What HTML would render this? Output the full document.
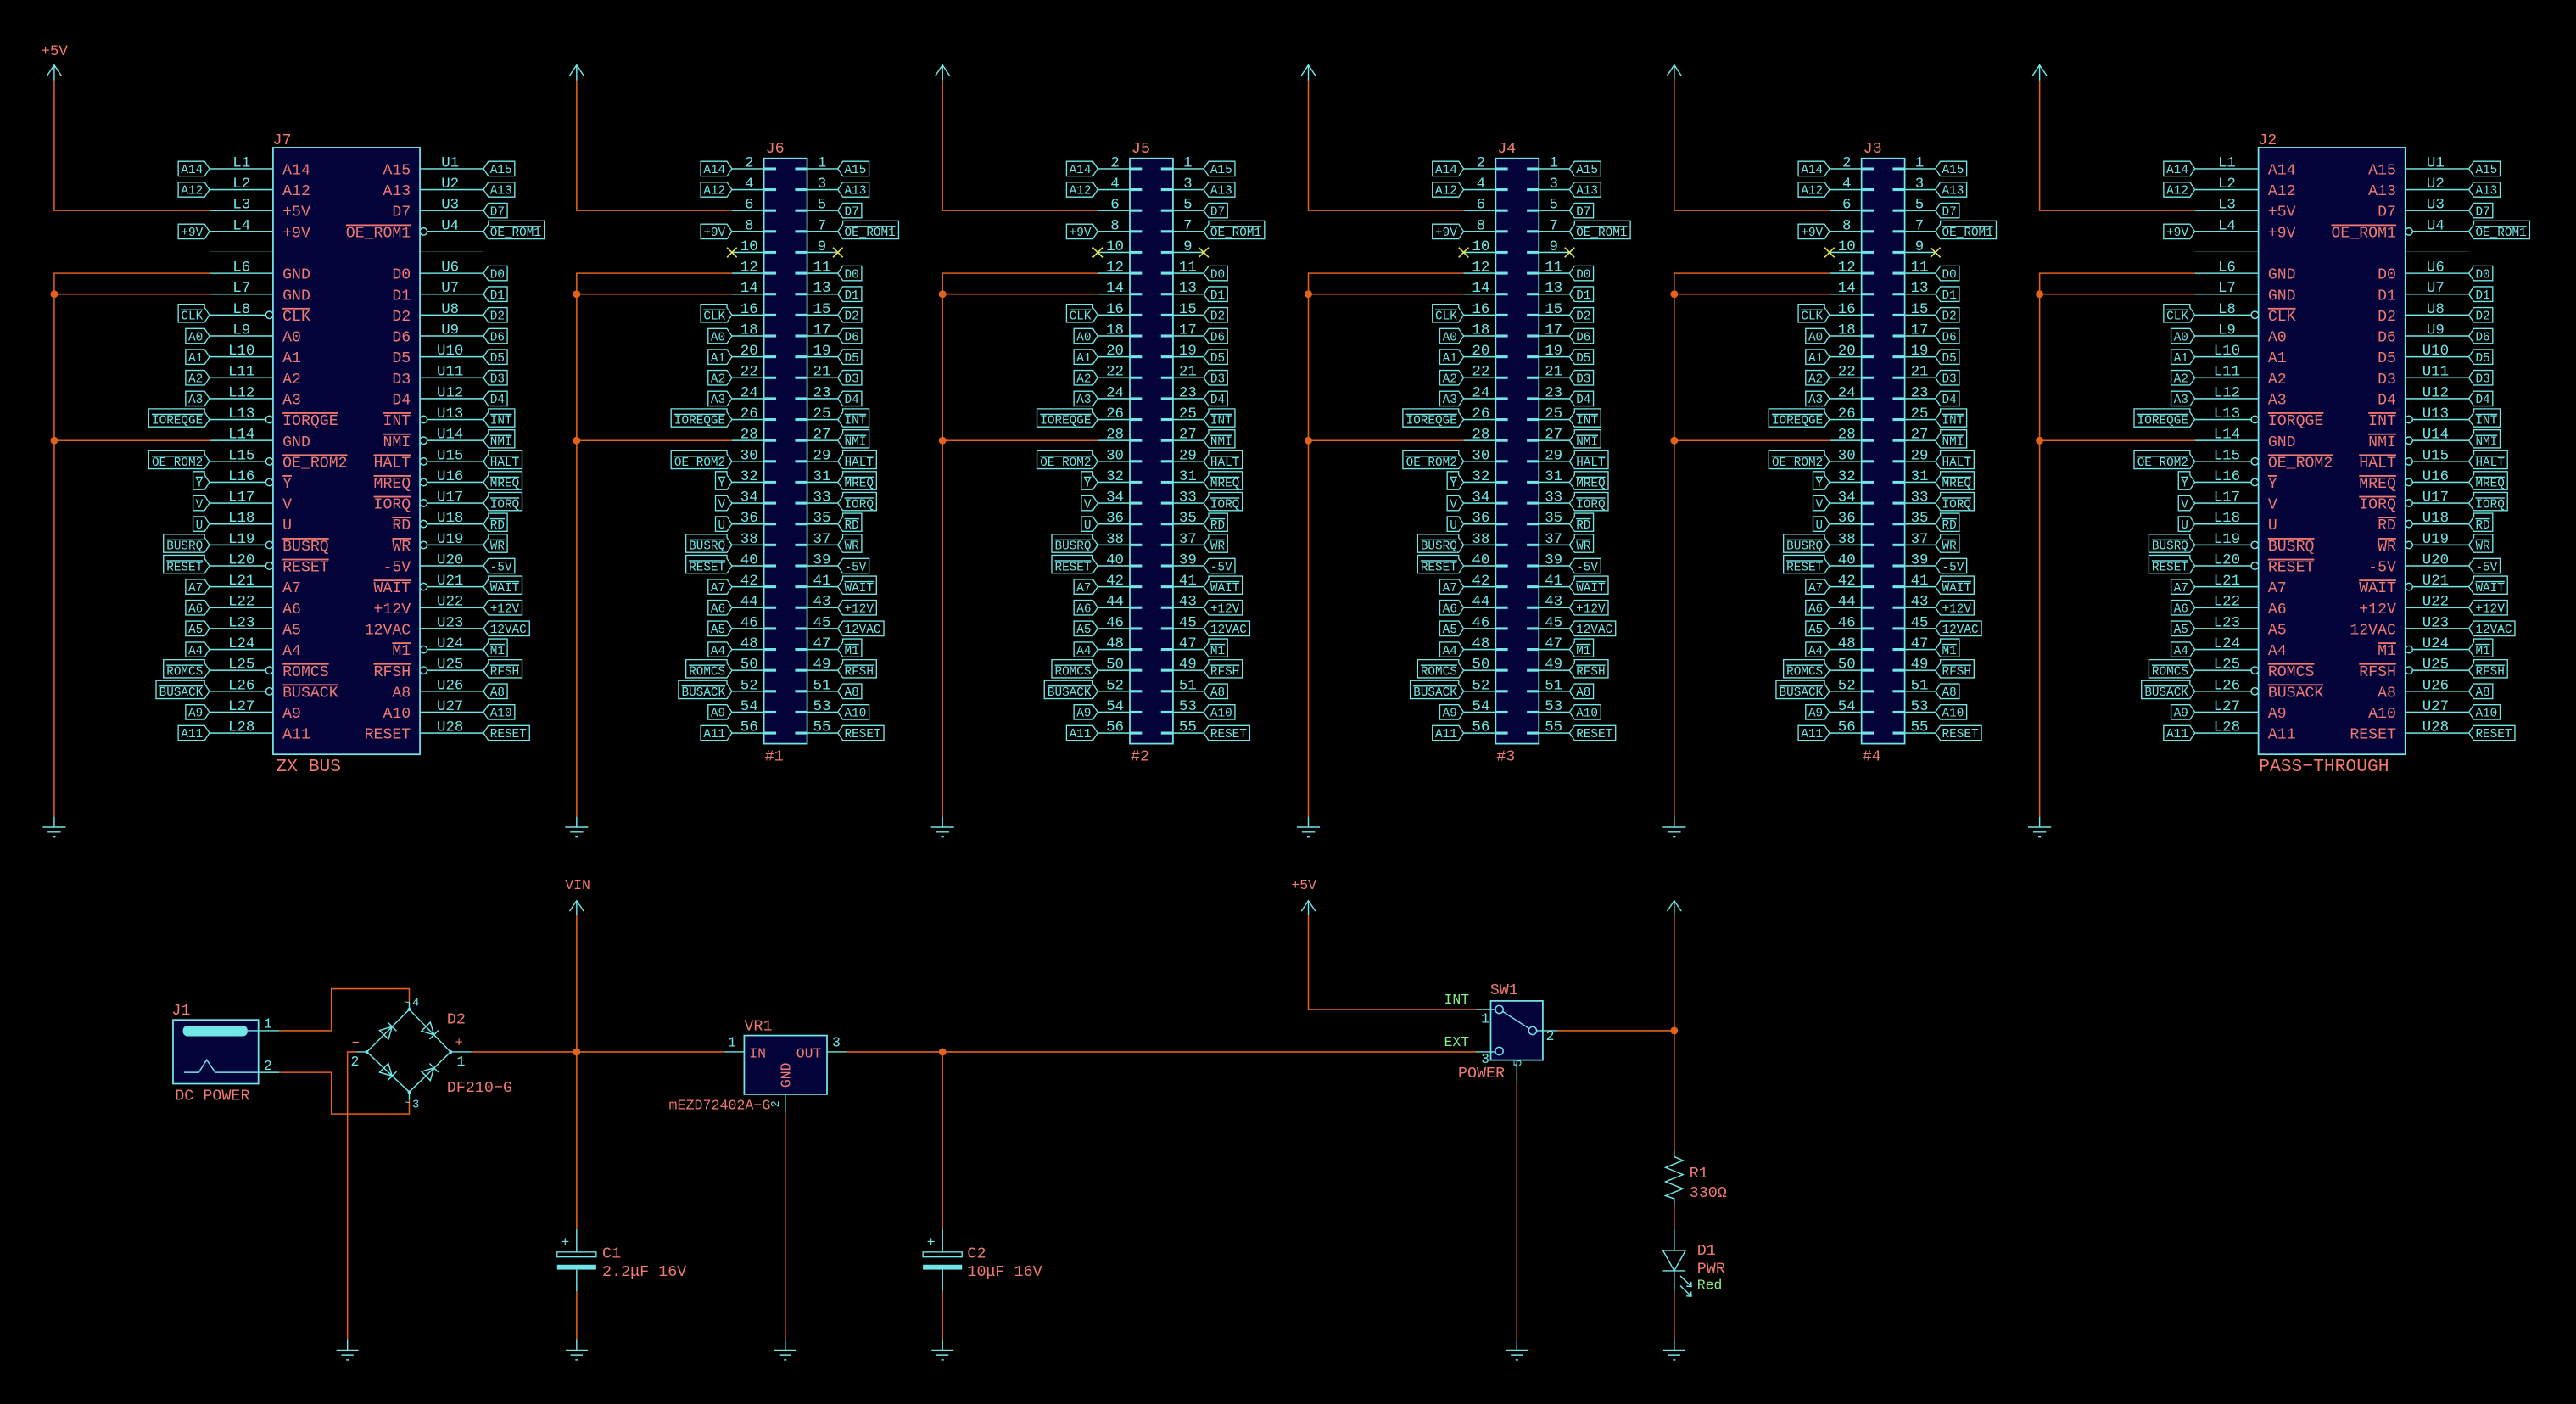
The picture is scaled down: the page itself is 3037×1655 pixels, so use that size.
<!DOCTYPE html>
<html><head><meta charset="utf-8"><style>
html,body{margin:0;padding:0;background:#000;}
svg{display:block}
text{font-family:"Liberation Mono","DejaVu Sans Mono",monospace;}
.w{fill:none;stroke:#e2621a;stroke-width:.8}
.c{fill:none;stroke:#72e6e6;stroke-width:.75}
.bx{fill:#03033a;stroke:#72e6e6;stroke-width:.9}
.lab path{fill:none;stroke:#72e6e6;stroke-width:.7}
.lab text{font-size:7.4px;fill:#72e6e6}
.L text{text-anchor:end}
.o{text-decoration:overline}
.pn text{font-size:9px;fill:#72e6e6;text-anchor:middle}
.nm{font-size:9.4px;fill:#f27a72}
.nm.r text{text-anchor:end}
.s{fill:#f27a72;font-size:9.5px}
.g{fill:#88ee88;font-size:8.5px}
.cy{fill:#72e6e6;font-size:8.5px}
.j{fill:#e2621a}
.bub{fill:#000;stroke:#72e6e6;stroke-width:.75}
.nc{stroke:#e6e650;stroke-width:.8;fill:none}
</style></head><body>
<svg width="3037" height="1655" viewBox="0 0 1568 854.5" preserveAspectRatio="none" xmlns="http://www.w3.org/2000/svg">
<defs>
<pattern id="pp" x="0" y="102.3" width="20" height="12.72" patternUnits="userSpaceOnUse"><rect width="20" height=".8" fill="#72e6e6"/></pattern>
<pattern id="ps" x="0" y="101.9" width="20" height="12.72" patternUnits="userSpaceOnUse"><rect width="20" height="1.6" fill="#72e6e6"/></pattern>
</defs>
<rect width="1568" height="854.5" fill="#000"/>

<!-- ===== Rails top ===== -->
<g class="c">
<path d="M33 49V39.6M28.7 46L33 39.6L37.3 46M351 49V39.6M346.7 46L351 39.6L355.3 46M573.7 49V39.6M569.4 46L573.7 39.6L578 46M796.4 49V39.6M792.1 46L796.4 39.6L800.7 46M1019.1 49V39.6M1014.8 46L1019.1 39.6L1023.4 46M1241.5 49V39.6M1237.2 46L1241.5 39.6L1245.8 46"/>
</g>
<path class="w" d="M33 49V128.1H127.5M127.5 166.3H33V497M33 179H127.5M33 268.1H127.5
M351 49V128.1H445.5M445.5 166.3H351V497M351 179H445.5M351 268.1H445.5
M573.7 49V128.1H668.2M668.2 166.3H573.7V497M573.7 179H668.2M573.7 268.1H668.2
M796.4 49V128.1H890.9M890.9 166.3H796.4V497M796.4 179H890.9M796.4 268.1H890.9
M1019.1 49V128.1H1113.6M1113.6 166.3H1019.1V497M1019.1 179H1113.6M1019.1 268.1H1113.6
M1241.5 49V128.1H1336M1336 166.3H1241.5V497M1241.5 179H1336M1241.5 268.1H1336"/>
<g class="j">
<circle cx="33" cy="179" r="2.3"/><circle cx="33" cy="268.1" r="2.3"/>
<circle cx="351" cy="179" r="2.3"/><circle cx="351" cy="268.1" r="2.3"/>
<circle cx="573.7" cy="179" r="2.3"/><circle cx="573.7" cy="268.1" r="2.3"/>
<circle cx="796.4" cy="179" r="2.3"/><circle cx="796.4" cy="268.1" r="2.3"/>
<circle cx="1019.1" cy="179" r="2.3"/><circle cx="1019.1" cy="268.1" r="2.3"/>
<circle cx="1241.5" cy="179" r="2.3"/><circle cx="1241.5" cy="268.1" r="2.3"/>
</g>
<path class="c" d="M33 497V503.4M26 503.4H40M29 506.4H37M32.2 509.4H33.8
M351 497V503.4M344 503.4H358M347 506.4H355M350.2 509.4H351.8
M573.7 497V503.4M566.7 503.4H580.7M569.7 506.4H577.7M572.9 509.4H574.5
M796.4 497V503.4M789.4 503.4H803.4M792.4 506.4H800.4M795.6 509.4H797.2
M1019.1 497V503.4M1012.1 503.4H1026.1M1015.1 506.4H1023.1M1018.3 509.4H1019.9
M1241.5 497V503.4M1234.5 503.4H1248.5M1237.5 506.4H1245.5M1240.7 509.4H1242.3"/>
<text class="s" x="25" y="33.5" style="font-size:9px">+5V</text>

<!-- ===== J7 / J2 shared drawing ===== -->
<g id="j7">
<rect class="bx" x="166.2" y="89.8" width="89.4" height="369.3"/>
<rect x="127.5" y="102.3" width="38.7" height="51" fill="url(#pp)"/>
<rect x="127.5" y="165.9" width="38.7" height="281" fill="url(#pp)"/>
<rect x="255.6" y="102.3" width="38.7" height="51" fill="url(#pp)"/>
<rect x="255.6" y="165.9" width="38.7" height="281" fill="url(#pp)"/>
<g class="bub">
<circle cx="164" cy="191.7" r="2.2"/><circle cx="164" cy="255.3" r="2.2"/><circle cx="164" cy="280.8" r="2.2"/><circle cx="164" cy="293.5" r="2.2"/><circle cx="164" cy="331.7" r="2.2"/><circle cx="164" cy="344.4" r="2.2"/><circle cx="164" cy="408" r="2.2"/><circle cx="164" cy="420.7" r="2.2"/>
<circle cx="257.8" cy="140.9" r="2.2"/><circle cx="257.8" cy="255.3" r="2.2"/><circle cx="257.8" cy="268.1" r="2.2"/><circle cx="257.8" cy="280.8" r="2.2"/><circle cx="257.8" cy="293.5" r="2.2"/><circle cx="257.8" cy="306.2" r="2.2"/><circle cx="257.8" cy="318.9" r="2.2"/><circle cx="257.8" cy="331.7" r="2.2"/><circle cx="257.8" cy="357.1" r="2.2"/><circle cx="257.8" cy="395.3" r="2.2"/><circle cx="257.8" cy="408" r="2.2"/>
</g>
<g class="pn">
<text x="147" y="101.4">L1</text><text x="147" y="114.1">L2</text><text x="147" y="126.8">L3</text><text x="147" y="139.6">L4</text><text x="147" y="165">L6</text><text x="147" y="177.7">L7</text><text x="147" y="190.4">L8</text><text x="147" y="203.2">L9</text><text x="147" y="215.9">L10</text><text x="147" y="228.6">L11</text><text x="147" y="241.3">L12</text><text x="147" y="254">L13</text><text x="147" y="266.8">L14</text><text x="147" y="279.5">L15</text><text x="147" y="292.2">L16</text><text x="147" y="304.9">L17</text><text x="147" y="317.6">L18</text><text x="147" y="330.4">L19</text><text x="147" y="343.1">L20</text><text x="147" y="355.8">L21</text><text x="147" y="368.5">L22</text><text x="147" y="381.2">L23</text><text x="147" y="394">L24</text><text x="147" y="406.7">L25</text><text x="147" y="419.4">L26</text><text x="147" y="432.1">L27</text><text x="147" y="444.8">L28</text>
<text x="274" y="101.4">U1</text><text x="274" y="114.1">U2</text><text x="274" y="126.8">U3</text><text x="274" y="139.6">U4</text><text x="274" y="165">U6</text><text x="274" y="177.7">U7</text><text x="274" y="190.4">U8</text><text x="274" y="203.2">U9</text><text x="274" y="215.9">U10</text><text x="274" y="228.6">U11</text><text x="274" y="241.3">U12</text><text x="274" y="254">U13</text><text x="274" y="266.8">U14</text><text x="274" y="279.5">U15</text><text x="274" y="292.2">U16</text><text x="274" y="304.9">U17</text><text x="274" y="317.6">U18</text><text x="274" y="330.4">U19</text><text x="274" y="343.1">U20</text><text x="274" y="355.8">U21</text><text x="274" y="368.5">U22</text><text x="274" y="381.2">U23</text><text x="274" y="394">U24</text><text x="274" y="406.7">U25</text><text x="274" y="419.4">U26</text><text x="274" y="432.1">U27</text><text x="274" y="444.8">U28</text>
</g>
<g class="nm">
<text x="172" y="106.1">A14</text><text x="172" y="118.8">A12</text><text x="172" y="131.5">+5V</text><text x="172" y="144.3">+9V</text><text x="172" y="169.7">GND</text><text x="172" y="182.4">GND</text><text class="o" x="172" y="195.1">CLK</text><text x="172" y="207.9">A0</text><text x="172" y="220.6">A1</text><text x="172" y="233.3">A2</text><text x="172" y="246">A3</text><text class="o" x="172" y="258.7">IORQGE</text><text x="172" y="271.5">GND</text><text class="o" x="172" y="284.2">OE_ROM2</text><text class="o" x="172" y="296.9">Y</text><text x="172" y="309.6">V</text><text x="172" y="322.3">U</text><text class="o" x="172" y="335.1">BUSRQ</text><text class="o" x="172" y="347.8">RESET</text><text x="172" y="360.5">A7</text><text x="172" y="373.2">A6</text><text x="172" y="385.9">A5</text><text x="172" y="398.7">A4</text><text class="o" x="172" y="411.4">ROMCS</text><text class="o" x="172" y="424.1">BUSACK</text><text x="172" y="436.8">A9</text><text x="172" y="449.5">A11</text>
</g>
<g class="nm r">
<text x="250" y="106.1">A15</text><text x="250" y="118.8">A13</text><text x="250" y="131.5">D7</text><text class="o" x="250" y="144.3">OE_ROM1</text><text x="250" y="169.7">D0</text><text x="250" y="182.4">D1</text><text x="250" y="195.1">D2</text><text x="250" y="207.9">D6</text><text x="250" y="220.6">D5</text><text x="250" y="233.3">D3</text><text x="250" y="246">D4</text><text class="o" x="250" y="258.7">INT</text><text class="o" x="250" y="271.5">NMI</text><text class="o" x="250" y="284.2">HALT</text><text class="o" x="250" y="296.9">MREQ</text><text class="o" x="250" y="309.6">IORQ</text><text class="o" x="250" y="322.3">RD</text><text class="o" x="250" y="335.1">WR</text><text x="250" y="347.8">-5V</text><text class="o" x="250" y="360.5">WAIT</text><text x="250" y="373.2">+12V</text><text x="250" y="385.9">12VAC</text><text class="o" x="250" y="398.7">M1</text><text class="o" x="250" y="411.4">RFSH</text><text x="250" y="424.1">A8</text><text x="250" y="436.8">A10</text><text x="250" y="449.5">RESET</text>
</g>
<g class="lab L" transform="translate(127.5,0)">
<g transform="translate(0,102.7)"><path d="M0 0l-3-4.5h-16v9h16z"/><text x="-4" y="2.7">A14</text></g>
<g transform="translate(0,115.4)"><path d="M0 0l-3-4.5h-16v9h16z"/><text x="-4" y="2.7">A12</text></g>
<g transform="translate(0,140.9)"><path d="M0 0l-3-4.5h-16v9h16z"/><text x="-4" y="2.7">+9V</text></g>
<g transform="translate(0,191.7)"><path d="M0 0l-3-4.5v-2h-16v11h16z"/><text class="o" x="-4" y="2.7">CLK</text></g>
<g transform="translate(0,204.5)"><path d="M0 0l-3-4.5h-11.5v9h11.5z"/><text x="-4" y="2.7">A0</text></g>
<g transform="translate(0,217.2)"><path d="M0 0l-3-4.5h-11.5v9h11.5z"/><text x="-4" y="2.7">A1</text></g>
<g transform="translate(0,229.9)"><path d="M0 0l-3-4.5h-11.5v9h11.5z"/><text x="-4" y="2.7">A2</text></g>
<g transform="translate(0,242.6)"><path d="M0 0l-3-4.5h-11.5v9h11.5z"/><text x="-4" y="2.7">A3</text></g>
<g transform="translate(0,255.3)"><path d="M0 0l-3-4.5v-2h-34v11h34z"/><text class="o" x="-4" y="2.7">IOREQGE</text></g>
<g transform="translate(0,280.8)"><path d="M0 0l-3-4.5v-2h-34v11h34z"/><text class="o" x="-4" y="2.7">OE_ROM2</text></g>
<g transform="translate(0,293.5)"><path d="M0 0l-3-4.5v-2h-7v11h7z"/><text class="o" x="-4" y="2.7">Y</text></g>
<g transform="translate(0,306.2)"><path d="M0 0l-3-4.5h-7v9h7z"/><text x="-4" y="2.7">V</text></g>
<g transform="translate(0,318.9)"><path d="M0 0l-3-4.5h-7v9h7z"/><text x="-4" y="2.7">U</text></g>
<g transform="translate(0,331.7)"><path d="M0 0l-3-4.5v-2h-25v11h25z"/><text class="o" x="-4" y="2.7">BUSRQ</text></g>
<g transform="translate(0,344.4)"><path d="M0 0l-3-4.5v-2h-25v11h25z"/><text class="o" x="-4" y="2.7">RESET</text></g>
<g transform="translate(0,357.1)"><path d="M0 0l-3-4.5h-11.5v9h11.5z"/><text x="-4" y="2.7">A7</text></g>
<g transform="translate(0,369.8)"><path d="M0 0l-3-4.5h-11.5v9h11.5z"/><text x="-4" y="2.7">A6</text></g>
<g transform="translate(0,382.5)"><path d="M0 0l-3-4.5h-11.5v9h11.5z"/><text x="-4" y="2.7">A5</text></g>
<g transform="translate(0,395.3)"><path d="M0 0l-3-4.5h-11.5v9h11.5z"/><text x="-4" y="2.7">A4</text></g>
<g transform="translate(0,408)"><path d="M0 0l-3-4.5v-2h-25v11h25z"/><text class="o" x="-4" y="2.7">ROMCS</text></g>
<g transform="translate(0,420.7)"><path d="M0 0l-3-4.5v-2h-29.5v11h29.5z"/><text class="o" x="-4" y="2.7">BUSACK</text></g>
<g transform="translate(0,433.4)"><path d="M0 0l-3-4.5h-11.5v9h11.5z"/><text x="-4" y="2.7">A9</text></g>
<g transform="translate(0,446.1)"><path d="M0 0l-3-4.5h-16v9h16z"/><text x="-4" y="2.7">A11</text></g>
</g>
<g class="lab" transform="translate(294.3,0)">
<g transform="translate(0,102.7)"><path d="M0 0l3-4.5h16v9h-16z"/><text x="4" y="2.7">A15</text></g>
<g transform="translate(0,115.4)"><path d="M0 0l3-4.5h16v9h-16z"/><text x="4" y="2.7">A13</text></g>
<g transform="translate(0,128.1)"><path d="M0 0l3-4.5h11.5v9h-11.5z"/><text x="4" y="2.7">D7</text></g>
<g transform="translate(0,140.9)"><path d="M0 0l3-4.5v-2h34v11h-34z"/><text class="o" x="4" y="2.7">OE_ROM1</text></g>
<g transform="translate(0,166.3)"><path d="M0 0l3-4.5h11.5v9h-11.5z"/><text x="4" y="2.7">D0</text></g>
<g transform="translate(0,179)"><path d="M0 0l3-4.5h11.5v9h-11.5z"/><text x="4" y="2.7">D1</text></g>
<g transform="translate(0,191.7)"><path d="M0 0l3-4.5h11.5v9h-11.5z"/><text x="4" y="2.7">D2</text></g>
<g transform="translate(0,204.5)"><path d="M0 0l3-4.5h11.5v9h-11.5z"/><text x="4" y="2.7">D6</text></g>
<g transform="translate(0,217.2)"><path d="M0 0l3-4.5h11.5v9h-11.5z"/><text x="4" y="2.7">D5</text></g>
<g transform="translate(0,229.9)"><path d="M0 0l3-4.5h11.5v9h-11.5z"/><text x="4" y="2.7">D3</text></g>
<g transform="translate(0,242.6)"><path d="M0 0l3-4.5h11.5v9h-11.5z"/><text x="4" y="2.7">D4</text></g>
<g transform="translate(0,255.3)"><path d="M0 0l3-4.5v-2h16v11h-16z"/><text class="o" x="4" y="2.7">INT</text></g>
<g transform="translate(0,268.1)"><path d="M0 0l3-4.5v-2h16v11h-16z"/><text class="o" x="4" y="2.7">NMI</text></g>
<g transform="translate(0,280.8)"><path d="M0 0l3-4.5v-2h20.5v11h-20.5z"/><text class="o" x="4" y="2.7">HALT</text></g>
<g transform="translate(0,293.5)"><path d="M0 0l3-4.5v-2h20.5v11h-20.5z"/><text class="o" x="4" y="2.7">MREQ</text></g>
<g transform="translate(0,306.2)"><path d="M0 0l3-4.5v-2h20.5v11h-20.5z"/><text class="o" x="4" y="2.7">IORQ</text></g>
<g transform="translate(0,318.9)"><path d="M0 0l3-4.5v-2h11.5v11h-11.5z"/><text class="o" x="4" y="2.7">RD</text></g>
<g transform="translate(0,331.7)"><path d="M0 0l3-4.5v-2h11.5v11h-11.5z"/><text class="o" x="4" y="2.7">WR</text></g>
<g transform="translate(0,344.4)"><path d="M0 0l3-4.5h16v9h-16z"/><text x="4" y="2.7">-5V</text></g>
<g transform="translate(0,357.1)"><path d="M0 0l3-4.5v-2h20.5v11h-20.5z"/><text class="o" x="4" y="2.7">WAIT</text></g>
<g transform="translate(0,369.8)"><path d="M0 0l3-4.5h20.5v9h-20.5z"/><text x="4" y="2.7">+12V</text></g>
<g transform="translate(0,382.5)"><path d="M0 0l3-4.5h25v9h-25z"/><text x="4" y="2.7">12VAC</text></g>
<g transform="translate(0,395.3)"><path d="M0 0l3-4.5v-2h11.5v11h-11.5z"/><text class="o" x="4" y="2.7">M1</text></g>
<g transform="translate(0,408)"><path d="M0 0l3-4.5v-2h20.5v11h-20.5z"/><text class="o" x="4" y="2.7">RFSH</text></g>
<g transform="translate(0,420.7)"><path d="M0 0l3-4.5h11.5v9h-11.5z"/><text x="4" y="2.7">A8</text></g>
<g transform="translate(0,433.4)"><path d="M0 0l3-4.5h16v9h-16z"/><text x="4" y="2.7">A10</text></g>
<g transform="translate(0,446.1)"><path d="M0 0l3-4.5h25v9h-25z"/><text x="4" y="2.7">RESET</text></g>
</g>
</g>
<text class="s" x="166" y="87.8">J7</text>
<text class="s" x="168" y="469.3" style="font-size:11px">ZX BUS</text>

<!-- J2 -->
<g transform="translate(1208.5,0)">
<rect class="bx" x="166.2" y="89.8" width="89.4" height="369.3"/>
<rect x="127.5" y="102.3" width="38.7" height="51" fill="url(#pp)"/>
<rect x="127.5" y="165.9" width="38.7" height="281" fill="url(#pp)"/>
<rect x="255.6" y="102.3" width="38.7" height="51" fill="url(#pp)"/>
<rect x="255.6" y="165.9" width="38.7" height="281" fill="url(#pp)"/>
<g class="bub">
<circle cx="164" cy="191.7" r="2.2"/><circle cx="164" cy="255.3" r="2.2"/><circle cx="164" cy="280.8" r="2.2"/><circle cx="164" cy="293.5" r="2.2"/><circle cx="164" cy="331.7" r="2.2"/><circle cx="164" cy="344.4" r="2.2"/><circle cx="164" cy="408" r="2.2"/><circle cx="164" cy="420.7" r="2.2"/>
<circle cx="257.8" cy="140.9" r="2.2"/><circle cx="257.8" cy="255.3" r="2.2"/><circle cx="257.8" cy="268.1" r="2.2"/><circle cx="257.8" cy="280.8" r="2.2"/><circle cx="257.8" cy="293.5" r="2.2"/><circle cx="257.8" cy="306.2" r="2.2"/><circle cx="257.8" cy="318.9" r="2.2"/><circle cx="257.8" cy="331.7" r="2.2"/><circle cx="257.8" cy="357.1" r="2.2"/><circle cx="257.8" cy="395.3" r="2.2"/><circle cx="257.8" cy="408" r="2.2"/>
</g>
<g class="pn">
<text x="147" y="101.4">L1</text><text x="147" y="114.1">L2</text><text x="147" y="126.8">L3</text><text x="147" y="139.6">L4</text><text x="147" y="165">L6</text><text x="147" y="177.7">L7</text><text x="147" y="190.4">L8</text><text x="147" y="203.2">L9</text><text x="147" y="215.9">L10</text><text x="147" y="228.6">L11</text><text x="147" y="241.3">L12</text><text x="147" y="254">L13</text><text x="147" y="266.8">L14</text><text x="147" y="279.5">L15</text><text x="147" y="292.2">L16</text><text x="147" y="304.9">L17</text><text x="147" y="317.6">L18</text><text x="147" y="330.4">L19</text><text x="147" y="343.1">L20</text><text x="147" y="355.8">L21</text><text x="147" y="368.5">L22</text><text x="147" y="381.2">L23</text><text x="147" y="394">L24</text><text x="147" y="406.7">L25</text><text x="147" y="419.4">L26</text><text x="147" y="432.1">L27</text><text x="147" y="444.8">L28</text>
<text x="274" y="101.4">U1</text><text x="274" y="114.1">U2</text><text x="274" y="126.8">U3</text><text x="274" y="139.6">U4</text><text x="274" y="165">U6</text><text x="274" y="177.7">U7</text><text x="274" y="190.4">U8</text><text x="274" y="203.2">U9</text><text x="274" y="215.9">U10</text><text x="274" y="228.6">U11</text><text x="274" y="241.3">U12</text><text x="274" y="254">U13</text><text x="274" y="266.8">U14</text><text x="274" y="279.5">U15</text><text x="274" y="292.2">U16</text><text x="274" y="304.9">U17</text><text x="274" y="317.6">U18</text><text x="274" y="330.4">U19</text><text x="274" y="343.1">U20</text><text x="274" y="355.8">U21</text><text x="274" y="368.5">U22</text><text x="274" y="381.2">U23</text><text x="274" y="394">U24</text><text x="274" y="406.7">U25</text><text x="274" y="419.4">U26</text><text x="274" y="432.1">U27</text><text x="274" y="444.8">U28</text>
</g>
<g class="nm">
<text x="172" y="106.1">A14</text><text x="172" y="118.8">A12</text><text x="172" y="131.5">+5V</text><text x="172" y="144.3">+9V</text><text x="172" y="169.7">GND</text><text x="172" y="182.4">GND</text><text class="o" x="172" y="195.1">CLK</text><text x="172" y="207.9">A0</text><text x="172" y="220.6">A1</text><text x="172" y="233.3">A2</text><text x="172" y="246">A3</text><text class="o" x="172" y="258.7">IORQGE</text><text x="172" y="271.5">GND</text><text class="o" x="172" y="284.2">OE_ROM2</text><text class="o" x="172" y="296.9">Y</text><text x="172" y="309.6">V</text><text x="172" y="322.3">U</text><text class="o" x="172" y="335.1">BUSRQ</text><text class="o" x="172" y="347.8">RESET</text><text x="172" y="360.5">A7</text><text x="172" y="373.2">A6</text><text x="172" y="385.9">A5</text><text x="172" y="398.7">A4</text><text class="o" x="172" y="411.4">ROMCS</text><text class="o" x="172" y="424.1">BUSACK</text><text x="172" y="436.8">A9</text><text x="172" y="449.5">A11</text>
</g>
<g class="nm r">
<text x="250" y="106.1">A15</text><text x="250" y="118.8">A13</text><text x="250" y="131.5">D7</text><text class="o" x="250" y="144.3">OE_ROM1</text><text x="250" y="169.7">D0</text><text x="250" y="182.4">D1</text><text x="250" y="195.1">D2</text><text x="250" y="207.9">D6</text><text x="250" y="220.6">D5</text><text x="250" y="233.3">D3</text><text x="250" y="246">D4</text><text class="o" x="250" y="258.7">INT</text><text class="o" x="250" y="271.5">NMI</text><text class="o" x="250" y="284.2">HALT</text><text class="o" x="250" y="296.9">MREQ</text><text class="o" x="250" y="309.6">IORQ</text><text class="o" x="250" y="322.3">RD</text><text class="o" x="250" y="335.1">WR</text><text x="250" y="347.8">-5V</text><text class="o" x="250" y="360.5">WAIT</text><text x="250" y="373.2">+12V</text><text x="250" y="385.9">12VAC</text><text class="o" x="250" y="398.7">M1</text><text class="o" x="250" y="411.4">RFSH</text><text x="250" y="424.1">A8</text><text x="250" y="436.8">A10</text><text x="250" y="449.5">RESET</text>
</g>
<g class="lab L" transform="translate(127.5,0)">
<g transform="translate(0,102.7)"><path d="M0 0l-3-4.5h-16v9h16z"/><text x="-4" y="2.7">A14</text></g>
<g transform="translate(0,115.4)"><path d="M0 0l-3-4.5h-16v9h16z"/><text x="-4" y="2.7">A12</text></g>
<g transform="translate(0,140.9)"><path d="M0 0l-3-4.5h-16v9h16z"/><text x="-4" y="2.7">+9V</text></g>
<g transform="translate(0,191.7)"><path d="M0 0l-3-4.5v-2h-16v11h16z"/><text class="o" x="-4" y="2.7">CLK</text></g>
<g transform="translate(0,204.5)"><path d="M0 0l-3-4.5h-11.5v9h11.5z"/><text x="-4" y="2.7">A0</text></g>
<g transform="translate(0,217.2)"><path d="M0 0l-3-4.5h-11.5v9h11.5z"/><text x="-4" y="2.7">A1</text></g>
<g transform="translate(0,229.9)"><path d="M0 0l-3-4.5h-11.5v9h11.5z"/><text x="-4" y="2.7">A2</text></g>
<g transform="translate(0,242.6)"><path d="M0 0l-3-4.5h-11.5v9h11.5z"/><text x="-4" y="2.7">A3</text></g>
<g transform="translate(0,255.3)"><path d="M0 0l-3-4.5v-2h-34v11h34z"/><text class="o" x="-4" y="2.7">IOREQGE</text></g>
<g transform="translate(0,280.8)"><path d="M0 0l-3-4.5v-2h-34v11h34z"/><text class="o" x="-4" y="2.7">OE_ROM2</text></g>
<g transform="translate(0,293.5)"><path d="M0 0l-3-4.5v-2h-7v11h7z"/><text class="o" x="-4" y="2.7">Y</text></g>
<g transform="translate(0,306.2)"><path d="M0 0l-3-4.5h-7v9h7z"/><text x="-4" y="2.7">V</text></g>
<g transform="translate(0,318.9)"><path d="M0 0l-3-4.5h-7v9h7z"/><text x="-4" y="2.7">U</text></g>
<g transform="translate(0,331.7)"><path d="M0 0l-3-4.5v-2h-25v11h25z"/><text class="o" x="-4" y="2.7">BUSRQ</text></g>
<g transform="translate(0,344.4)"><path d="M0 0l-3-4.5v-2h-25v11h25z"/><text class="o" x="-4" y="2.7">RESET</text></g>
<g transform="translate(0,357.1)"><path d="M0 0l-3-4.5h-11.5v9h11.5z"/><text x="-4" y="2.7">A7</text></g>
<g transform="translate(0,369.8)"><path d="M0 0l-3-4.5h-11.5v9h11.5z"/><text x="-4" y="2.7">A6</text></g>
<g transform="translate(0,382.5)"><path d="M0 0l-3-4.5h-11.5v9h11.5z"/><text x="-4" y="2.7">A5</text></g>
<g transform="translate(0,395.3)"><path d="M0 0l-3-4.5h-11.5v9h11.5z"/><text x="-4" y="2.7">A4</text></g>
<g transform="translate(0,408)"><path d="M0 0l-3-4.5v-2h-25v11h25z"/><text class="o" x="-4" y="2.7">ROMCS</text></g>
<g transform="translate(0,420.7)"><path d="M0 0l-3-4.5v-2h-29.5v11h29.5z"/><text class="o" x="-4" y="2.7">BUSACK</text></g>
<g transform="translate(0,433.4)"><path d="M0 0l-3-4.5h-11.5v9h11.5z"/><text x="-4" y="2.7">A9</text></g>
<g transform="translate(0,446.1)"><path d="M0 0l-3-4.5h-16v9h16z"/><text x="-4" y="2.7">A11</text></g>
</g>
<g class="lab" transform="translate(294.3,0)">
<g transform="translate(0,102.7)"><path d="M0 0l3-4.5h16v9h-16z"/><text x="4" y="2.7">A15</text></g>
<g transform="translate(0,115.4)"><path d="M0 0l3-4.5h16v9h-16z"/><text x="4" y="2.7">A13</text></g>
<g transform="translate(0,128.1)"><path d="M0 0l3-4.5h11.5v9h-11.5z"/><text x="4" y="2.7">D7</text></g>
<g transform="translate(0,140.9)"><path d="M0 0l3-4.5v-2h34v11h-34z"/><text class="o" x="4" y="2.7">OE_ROM1</text></g>
<g transform="translate(0,166.3)"><path d="M0 0l3-4.5h11.5v9h-11.5z"/><text x="4" y="2.7">D0</text></g>
<g transform="translate(0,179)"><path d="M0 0l3-4.5h11.5v9h-11.5z"/><text x="4" y="2.7">D1</text></g>
<g transform="translate(0,191.7)"><path d="M0 0l3-4.5h11.5v9h-11.5z"/><text x="4" y="2.7">D2</text></g>
<g transform="translate(0,204.5)"><path d="M0 0l3-4.5h11.5v9h-11.5z"/><text x="4" y="2.7">D6</text></g>
<g transform="translate(0,217.2)"><path d="M0 0l3-4.5h11.5v9h-11.5z"/><text x="4" y="2.7">D5</text></g>
<g transform="translate(0,229.9)"><path d="M0 0l3-4.5h11.5v9h-11.5z"/><text x="4" y="2.7">D3</text></g>
<g transform="translate(0,242.6)"><path d="M0 0l3-4.5h11.5v9h-11.5z"/><text x="4" y="2.7">D4</text></g>
<g transform="translate(0,255.3)"><path d="M0 0l3-4.5v-2h16v11h-16z"/><text class="o" x="4" y="2.7">INT</text></g>
<g transform="translate(0,268.1)"><path d="M0 0l3-4.5v-2h16v11h-16z"/><text class="o" x="4" y="2.7">NMI</text></g>
<g transform="translate(0,280.8)"><path d="M0 0l3-4.5v-2h20.5v11h-20.5z"/><text class="o" x="4" y="2.7">HALT</text></g>
<g transform="translate(0,293.5)"><path d="M0 0l3-4.5v-2h20.5v11h-20.5z"/><text class="o" x="4" y="2.7">MREQ</text></g>
<g transform="translate(0,306.2)"><path d="M0 0l3-4.5v-2h20.5v11h-20.5z"/><text class="o" x="4" y="2.7">IORQ</text></g>
<g transform="translate(0,318.9)"><path d="M0 0l3-4.5v-2h11.5v11h-11.5z"/><text class="o" x="4" y="2.7">RD</text></g>
<g transform="translate(0,331.7)"><path d="M0 0l3-4.5v-2h11.5v11h-11.5z"/><text class="o" x="4" y="2.7">WR</text></g>
<g transform="translate(0,344.4)"><path d="M0 0l3-4.5h16v9h-16z"/><text x="4" y="2.7">-5V</text></g>
<g transform="translate(0,357.1)"><path d="M0 0l3-4.5v-2h20.5v11h-20.5z"/><text class="o" x="4" y="2.7">WAIT</text></g>
<g transform="translate(0,369.8)"><path d="M0 0l3-4.5h20.5v9h-20.5z"/><text x="4" y="2.7">+12V</text></g>
<g transform="translate(0,382.5)"><path d="M0 0l3-4.5h25v9h-25z"/><text x="4" y="2.7">12VAC</text></g>
<g transform="translate(0,395.3)"><path d="M0 0l3-4.5v-2h11.5v11h-11.5z"/><text class="o" x="4" y="2.7">M1</text></g>
<g transform="translate(0,408)"><path d="M0 0l3-4.5v-2h20.5v11h-20.5z"/><text class="o" x="4" y="2.7">RFSH</text></g>
<g transform="translate(0,420.7)"><path d="M0 0l3-4.5h11.5v9h-11.5z"/><text x="4" y="2.7">A8</text></g>
<g transform="translate(0,433.4)"><path d="M0 0l3-4.5h16v9h-16z"/><text x="4" y="2.7">A10</text></g>
<g transform="translate(0,446.1)"><path d="M0 0l3-4.5h25v9h-25z"/><text x="4" y="2.7">RESET</text></g>
</g>
<text class="s" x="166" y="87.8">J2</text>
<text class="s" x="166.5" y="469.3" style="font-size:11px">PASS−THROUGH</text>
</g>

<!-- ===== Headers J6..J3 ===== -->
<g transform="translate(0,0)">
<rect class="bx" x="465" y="96.4" width="26.3" height="356.2"/>
<rect x="445.5" y="102.3" width="19.5" height="345" fill="url(#pp)"/>
<rect x="491.3" y="102.3" width="18.7" height="345" fill="url(#pp)"/>
<rect x="465" y="101.9" width="7.4" height="346" fill="url(#ps)"/>
<rect x="484" y="101.9" width="7.3" height="346" fill="url(#ps)"/>
<path class="nc" d="M442.5 150.6l6 6m0-6l-6 6M507 150.6l6 6m0-6l-6 6"/>
<g class="pn">
<text x="456" y="101.4">2</text><text x="456" y="114.1">4</text><text x="456" y="126.8">6</text><text x="456" y="139.6">8</text><text x="456" y="152.3">10</text><text x="456" y="165">12</text><text x="456" y="177.7">14</text><text x="456" y="190.4">16</text><text x="456" y="203.2">18</text><text x="456" y="215.9">20</text><text x="456" y="228.6">22</text><text x="456" y="241.3">24</text><text x="456" y="254">26</text><text x="456" y="266.8">28</text><text x="456" y="279.5">30</text><text x="456" y="292.2">32</text><text x="456" y="304.9">34</text><text x="456" y="317.6">36</text><text x="456" y="330.4">38</text><text x="456" y="343.1">40</text><text x="456" y="355.8">42</text><text x="456" y="368.5">44</text><text x="456" y="381.2">46</text><text x="456" y="394">48</text><text x="456" y="406.7">50</text><text x="456" y="419.4">52</text><text x="456" y="432.1">54</text><text x="456" y="444.8">56</text>
<text x="500.3" y="101.4">1</text><text x="500.3" y="114.1">3</text><text x="500.3" y="126.8">5</text><text x="500.3" y="139.6">7</text><text x="500.3" y="152.3">9</text><text x="500.3" y="165">11</text><text x="500.3" y="177.7">13</text><text x="500.3" y="190.4">15</text><text x="500.3" y="203.2">17</text><text x="500.3" y="215.9">19</text><text x="500.3" y="228.6">21</text><text x="500.3" y="241.3">23</text><text x="500.3" y="254">25</text><text x="500.3" y="266.8">27</text><text x="500.3" y="279.5">29</text><text x="500.3" y="292.2">31</text><text x="500.3" y="304.9">33</text><text x="500.3" y="317.6">35</text><text x="500.3" y="330.4">37</text><text x="500.3" y="343.1">39</text><text x="500.3" y="355.8">41</text><text x="500.3" y="368.5">43</text><text x="500.3" y="381.2">45</text><text x="500.3" y="394">47</text><text x="500.3" y="406.7">49</text><text x="500.3" y="419.4">51</text><text x="500.3" y="432.1">53</text><text x="500.3" y="444.8">55</text>
</g>
<g class="lab L" transform="translate(445.5,0)">
<g transform="translate(0,102.7)"><path d="M0 0l-3-4.5h-16v9h16z"/><text x="-4" y="2.7">A14</text></g>
<g transform="translate(0,115.4)"><path d="M0 0l-3-4.5h-16v9h16z"/><text x="-4" y="2.7">A12</text></g>
<g transform="translate(0,140.9)"><path d="M0 0l-3-4.5h-16v9h16z"/><text x="-4" y="2.7">+9V</text></g>
<g transform="translate(0,191.7)"><path d="M0 0l-3-4.5v-2h-16v11h16z"/><text class="o" x="-4" y="2.7">CLK</text></g>
<g transform="translate(0,204.5)"><path d="M0 0l-3-4.5h-11.5v9h11.5z"/><text x="-4" y="2.7">A0</text></g>
<g transform="translate(0,217.2)"><path d="M0 0l-3-4.5h-11.5v9h11.5z"/><text x="-4" y="2.7">A1</text></g>
<g transform="translate(0,229.9)"><path d="M0 0l-3-4.5h-11.5v9h11.5z"/><text x="-4" y="2.7">A2</text></g>
<g transform="translate(0,242.6)"><path d="M0 0l-3-4.5h-11.5v9h11.5z"/><text x="-4" y="2.7">A3</text></g>
<g transform="translate(0,255.3)"><path d="M0 0l-3-4.5v-2h-34v11h34z"/><text class="o" x="-4" y="2.7">IOREQGE</text></g>
<g transform="translate(0,280.8)"><path d="M0 0l-3-4.5v-2h-34v11h34z"/><text class="o" x="-4" y="2.7">OE_ROM2</text></g>
<g transform="translate(0,293.5)"><path d="M0 0l-3-4.5v-2h-7v11h7z"/><text class="o" x="-4" y="2.7">Y</text></g>
<g transform="translate(0,306.2)"><path d="M0 0l-3-4.5h-7v9h7z"/><text x="-4" y="2.7">V</text></g>
<g transform="translate(0,318.9)"><path d="M0 0l-3-4.5h-7v9h7z"/><text x="-4" y="2.7">U</text></g>
<g transform="translate(0,331.7)"><path d="M0 0l-3-4.5v-2h-25v11h25z"/><text class="o" x="-4" y="2.7">BUSRQ</text></g>
<g transform="translate(0,344.4)"><path d="M0 0l-3-4.5v-2h-25v11h25z"/><text class="o" x="-4" y="2.7">RESET</text></g>
<g transform="translate(0,357.1)"><path d="M0 0l-3-4.5h-11.5v9h11.5z"/><text x="-4" y="2.7">A7</text></g>
<g transform="translate(0,369.8)"><path d="M0 0l-3-4.5h-11.5v9h11.5z"/><text x="-4" y="2.7">A6</text></g>
<g transform="translate(0,382.5)"><path d="M0 0l-3-4.5h-11.5v9h11.5z"/><text x="-4" y="2.7">A5</text></g>
<g transform="translate(0,395.3)"><path d="M0 0l-3-4.5h-11.5v9h11.5z"/><text x="-4" y="2.7">A4</text></g>
<g transform="translate(0,408)"><path d="M0 0l-3-4.5v-2h-25v11h25z"/><text class="o" x="-4" y="2.7">ROMCS</text></g>
<g transform="translate(0,420.7)"><path d="M0 0l-3-4.5v-2h-29.5v11h29.5z"/><text class="o" x="-4" y="2.7">BUSACK</text></g>
<g transform="translate(0,433.4)"><path d="M0 0l-3-4.5h-11.5v9h11.5z"/><text x="-4" y="2.7">A9</text></g>
<g transform="translate(0,446.1)"><path d="M0 0l-3-4.5h-16v9h16z"/><text x="-4" y="2.7">A11</text></g>
</g>
<g class="lab" transform="translate(510,0)">
<g transform="translate(0,102.7)"><path d="M0 0l3-4.5h16v9h-16z"/><text x="4" y="2.7">A15</text></g>
<g transform="translate(0,115.4)"><path d="M0 0l3-4.5h16v9h-16z"/><text x="4" y="2.7">A13</text></g>
<g transform="translate(0,128.1)"><path d="M0 0l3-4.5h11.5v9h-11.5z"/><text x="4" y="2.7">D7</text></g>
<g transform="translate(0,140.9)"><path d="M0 0l3-4.5v-2h34v11h-34z"/><text class="o" x="4" y="2.7">OE_ROM1</text></g>
<g transform="translate(0,166.3)"><path d="M0 0l3-4.5h11.5v9h-11.5z"/><text x="4" y="2.7">D0</text></g>
<g transform="translate(0,179)"><path d="M0 0l3-4.5h11.5v9h-11.5z"/><text x="4" y="2.7">D1</text></g>
<g transform="translate(0,191.7)"><path d="M0 0l3-4.5h11.5v9h-11.5z"/><text x="4" y="2.7">D2</text></g>
<g transform="translate(0,204.5)"><path d="M0 0l3-4.5h11.5v9h-11.5z"/><text x="4" y="2.7">D6</text></g>
<g transform="translate(0,217.2)"><path d="M0 0l3-4.5h11.5v9h-11.5z"/><text x="4" y="2.7">D5</text></g>
<g transform="translate(0,229.9)"><path d="M0 0l3-4.5h11.5v9h-11.5z"/><text x="4" y="2.7">D3</text></g>
<g transform="translate(0,242.6)"><path d="M0 0l3-4.5h11.5v9h-11.5z"/><text x="4" y="2.7">D4</text></g>
<g transform="translate(0,255.3)"><path d="M0 0l3-4.5v-2h16v11h-16z"/><text class="o" x="4" y="2.7">INT</text></g>
<g transform="translate(0,268.1)"><path d="M0 0l3-4.5v-2h16v11h-16z"/><text class="o" x="4" y="2.7">NMI</text></g>
<g transform="translate(0,280.8)"><path d="M0 0l3-4.5v-2h20.5v11h-20.5z"/><text class="o" x="4" y="2.7">HALT</text></g>
<g transform="translate(0,293.5)"><path d="M0 0l3-4.5v-2h20.5v11h-20.5z"/><text class="o" x="4" y="2.7">MREQ</text></g>
<g transform="translate(0,306.2)"><path d="M0 0l3-4.5v-2h20.5v11h-20.5z"/><text class="o" x="4" y="2.7">IORQ</text></g>
<g transform="translate(0,318.9)"><path d="M0 0l3-4.5v-2h11.5v11h-11.5z"/><text class="o" x="4" y="2.7">RD</text></g>
<g transform="translate(0,331.7)"><path d="M0 0l3-4.5v-2h11.5v11h-11.5z"/><text class="o" x="4" y="2.7">WR</text></g>
<g transform="translate(0,344.4)"><path d="M0 0l3-4.5h16v9h-16z"/><text x="4" y="2.7">-5V</text></g>
<g transform="translate(0,357.1)"><path d="M0 0l3-4.5v-2h20.5v11h-20.5z"/><text class="o" x="4" y="2.7">WAIT</text></g>
<g transform="translate(0,369.8)"><path d="M0 0l3-4.5h20.5v9h-20.5z"/><text x="4" y="2.7">+12V</text></g>
<g transform="translate(0,382.5)"><path d="M0 0l3-4.5h25v9h-25z"/><text x="4" y="2.7">12VAC</text></g>
<g transform="translate(0,395.3)"><path d="M0 0l3-4.5v-2h11.5v11h-11.5z"/><text class="o" x="4" y="2.7">M1</text></g>
<g transform="translate(0,408)"><path d="M0 0l3-4.5v-2h20.5v11h-20.5z"/><text class="o" x="4" y="2.7">RFSH</text></g>
<g transform="translate(0,420.7)"><path d="M0 0l3-4.5h11.5v9h-11.5z"/><text x="4" y="2.7">A8</text></g>
<g transform="translate(0,433.4)"><path d="M0 0l3-4.5h16v9h-16z"/><text x="4" y="2.7">A10</text></g>
<g transform="translate(0,446.1)"><path d="M0 0l3-4.5h25v9h-25z"/><text x="4" y="2.7">RESET</text></g>
</g>
<text class="s" x="466" y="93">J6</text>
<text class="s" x="465.5" y="463">#1</text>
</g>

<g transform="translate(222.7,0)">
<rect class="bx" x="465" y="96.4" width="26.3" height="356.2"/>
<rect x="445.5" y="102.3" width="19.5" height="345" fill="url(#pp)"/>
<rect x="491.3" y="102.3" width="18.7" height="345" fill="url(#pp)"/>
<rect x="465" y="101.9" width="7.4" height="346" fill="url(#ps)"/>
<rect x="484" y="101.9" width="7.3" height="346" fill="url(#ps)"/>
<path class="nc" d="M442.5 150.6l6 6m0-6l-6 6M507 150.6l6 6m0-6l-6 6"/>
<g class="pn">
<text x="456" y="101.4">2</text><text x="456" y="114.1">4</text><text x="456" y="126.8">6</text><text x="456" y="139.6">8</text><text x="456" y="152.3">10</text><text x="456" y="165">12</text><text x="456" y="177.7">14</text><text x="456" y="190.4">16</text><text x="456" y="203.2">18</text><text x="456" y="215.9">20</text><text x="456" y="228.6">22</text><text x="456" y="241.3">24</text><text x="456" y="254">26</text><text x="456" y="266.8">28</text><text x="456" y="279.5">30</text><text x="456" y="292.2">32</text><text x="456" y="304.9">34</text><text x="456" y="317.6">36</text><text x="456" y="330.4">38</text><text x="456" y="343.1">40</text><text x="456" y="355.8">42</text><text x="456" y="368.5">44</text><text x="456" y="381.2">46</text><text x="456" y="394">48</text><text x="456" y="406.7">50</text><text x="456" y="419.4">52</text><text x="456" y="432.1">54</text><text x="456" y="444.8">56</text>
<text x="500.3" y="101.4">1</text><text x="500.3" y="114.1">3</text><text x="500.3" y="126.8">5</text><text x="500.3" y="139.6">7</text><text x="500.3" y="152.3">9</text><text x="500.3" y="165">11</text><text x="500.3" y="177.7">13</text><text x="500.3" y="190.4">15</text><text x="500.3" y="203.2">17</text><text x="500.3" y="215.9">19</text><text x="500.3" y="228.6">21</text><text x="500.3" y="241.3">23</text><text x="500.3" y="254">25</text><text x="500.3" y="266.8">27</text><text x="500.3" y="279.5">29</text><text x="500.3" y="292.2">31</text><text x="500.3" y="304.9">33</text><text x="500.3" y="317.6">35</text><text x="500.3" y="330.4">37</text><text x="500.3" y="343.1">39</text><text x="500.3" y="355.8">41</text><text x="500.3" y="368.5">43</text><text x="500.3" y="381.2">45</text><text x="500.3" y="394">47</text><text x="500.3" y="406.7">49</text><text x="500.3" y="419.4">51</text><text x="500.3" y="432.1">53</text><text x="500.3" y="444.8">55</text>
</g>
<g class="lab L" transform="translate(445.5,0)">
<g transform="translate(0,102.7)"><path d="M0 0l-3-4.5h-16v9h16z"/><text x="-4" y="2.7">A14</text></g>
<g transform="translate(0,115.4)"><path d="M0 0l-3-4.5h-16v9h16z"/><text x="-4" y="2.7">A12</text></g>
<g transform="translate(0,140.9)"><path d="M0 0l-3-4.5h-16v9h16z"/><text x="-4" y="2.7">+9V</text></g>
<g transform="translate(0,191.7)"><path d="M0 0l-3-4.5v-2h-16v11h16z"/><text class="o" x="-4" y="2.7">CLK</text></g>
<g transform="translate(0,204.5)"><path d="M0 0l-3-4.5h-11.5v9h11.5z"/><text x="-4" y="2.7">A0</text></g>
<g transform="translate(0,217.2)"><path d="M0 0l-3-4.5h-11.5v9h11.5z"/><text x="-4" y="2.7">A1</text></g>
<g transform="translate(0,229.9)"><path d="M0 0l-3-4.5h-11.5v9h11.5z"/><text x="-4" y="2.7">A2</text></g>
<g transform="translate(0,242.6)"><path d="M0 0l-3-4.5h-11.5v9h11.5z"/><text x="-4" y="2.7">A3</text></g>
<g transform="translate(0,255.3)"><path d="M0 0l-3-4.5v-2h-34v11h34z"/><text class="o" x="-4" y="2.7">IOREQGE</text></g>
<g transform="translate(0,280.8)"><path d="M0 0l-3-4.5v-2h-34v11h34z"/><text class="o" x="-4" y="2.7">OE_ROM2</text></g>
<g transform="translate(0,293.5)"><path d="M0 0l-3-4.5v-2h-7v11h7z"/><text class="o" x="-4" y="2.7">Y</text></g>
<g transform="translate(0,306.2)"><path d="M0 0l-3-4.5h-7v9h7z"/><text x="-4" y="2.7">V</text></g>
<g transform="translate(0,318.9)"><path d="M0 0l-3-4.5h-7v9h7z"/><text x="-4" y="2.7">U</text></g>
<g transform="translate(0,331.7)"><path d="M0 0l-3-4.5v-2h-25v11h25z"/><text class="o" x="-4" y="2.7">BUSRQ</text></g>
<g transform="translate(0,344.4)"><path d="M0 0l-3-4.5v-2h-25v11h25z"/><text class="o" x="-4" y="2.7">RESET</text></g>
<g transform="translate(0,357.1)"><path d="M0 0l-3-4.5h-11.5v9h11.5z"/><text x="-4" y="2.7">A7</text></g>
<g transform="translate(0,369.8)"><path d="M0 0l-3-4.5h-11.5v9h11.5z"/><text x="-4" y="2.7">A6</text></g>
<g transform="translate(0,382.5)"><path d="M0 0l-3-4.5h-11.5v9h11.5z"/><text x="-4" y="2.7">A5</text></g>
<g transform="translate(0,395.3)"><path d="M0 0l-3-4.5h-11.5v9h11.5z"/><text x="-4" y="2.7">A4</text></g>
<g transform="translate(0,408)"><path d="M0 0l-3-4.5v-2h-25v11h25z"/><text class="o" x="-4" y="2.7">ROMCS</text></g>
<g transform="translate(0,420.7)"><path d="M0 0l-3-4.5v-2h-29.5v11h29.5z"/><text class="o" x="-4" y="2.7">BUSACK</text></g>
<g transform="translate(0,433.4)"><path d="M0 0l-3-4.5h-11.5v9h11.5z"/><text x="-4" y="2.7">A9</text></g>
<g transform="translate(0,446.1)"><path d="M0 0l-3-4.5h-16v9h16z"/><text x="-4" y="2.7">A11</text></g>
</g>
<g class="lab" transform="translate(510,0)">
<g transform="translate(0,102.7)"><path d="M0 0l3-4.5h16v9h-16z"/><text x="4" y="2.7">A15</text></g>
<g transform="translate(0,115.4)"><path d="M0 0l3-4.5h16v9h-16z"/><text x="4" y="2.7">A13</text></g>
<g transform="translate(0,128.1)"><path d="M0 0l3-4.5h11.5v9h-11.5z"/><text x="4" y="2.7">D7</text></g>
<g transform="translate(0,140.9)"><path d="M0 0l3-4.5v-2h34v11h-34z"/><text class="o" x="4" y="2.7">OE_ROM1</text></g>
<g transform="translate(0,166.3)"><path d="M0 0l3-4.5h11.5v9h-11.5z"/><text x="4" y="2.7">D0</text></g>
<g transform="translate(0,179)"><path d="M0 0l3-4.5h11.5v9h-11.5z"/><text x="4" y="2.7">D1</text></g>
<g transform="translate(0,191.7)"><path d="M0 0l3-4.5h11.5v9h-11.5z"/><text x="4" y="2.7">D2</text></g>
<g transform="translate(0,204.5)"><path d="M0 0l3-4.5h11.5v9h-11.5z"/><text x="4" y="2.7">D6</text></g>
<g transform="translate(0,217.2)"><path d="M0 0l3-4.5h11.5v9h-11.5z"/><text x="4" y="2.7">D5</text></g>
<g transform="translate(0,229.9)"><path d="M0 0l3-4.5h11.5v9h-11.5z"/><text x="4" y="2.7">D3</text></g>
<g transform="translate(0,242.6)"><path d="M0 0l3-4.5h11.5v9h-11.5z"/><text x="4" y="2.7">D4</text></g>
<g transform="translate(0,255.3)"><path d="M0 0l3-4.5v-2h16v11h-16z"/><text class="o" x="4" y="2.7">INT</text></g>
<g transform="translate(0,268.1)"><path d="M0 0l3-4.5v-2h16v11h-16z"/><text class="o" x="4" y="2.7">NMI</text></g>
<g transform="translate(0,280.8)"><path d="M0 0l3-4.5v-2h20.5v11h-20.5z"/><text class="o" x="4" y="2.7">HALT</text></g>
<g transform="translate(0,293.5)"><path d="M0 0l3-4.5v-2h20.5v11h-20.5z"/><text class="o" x="4" y="2.7">MREQ</text></g>
<g transform="translate(0,306.2)"><path d="M0 0l3-4.5v-2h20.5v11h-20.5z"/><text class="o" x="4" y="2.7">IORQ</text></g>
<g transform="translate(0,318.9)"><path d="M0 0l3-4.5v-2h11.5v11h-11.5z"/><text class="o" x="4" y="2.7">RD</text></g>
<g transform="translate(0,331.7)"><path d="M0 0l3-4.5v-2h11.5v11h-11.5z"/><text class="o" x="4" y="2.7">WR</text></g>
<g transform="translate(0,344.4)"><path d="M0 0l3-4.5h16v9h-16z"/><text x="4" y="2.7">-5V</text></g>
<g transform="translate(0,357.1)"><path d="M0 0l3-4.5v-2h20.5v11h-20.5z"/><text class="o" x="4" y="2.7">WAIT</text></g>
<g transform="translate(0,369.8)"><path d="M0 0l3-4.5h20.5v9h-20.5z"/><text x="4" y="2.7">+12V</text></g>
<g transform="translate(0,382.5)"><path d="M0 0l3-4.5h25v9h-25z"/><text x="4" y="2.7">12VAC</text></g>
<g transform="translate(0,395.3)"><path d="M0 0l3-4.5v-2h11.5v11h-11.5z"/><text class="o" x="4" y="2.7">M1</text></g>
<g transform="translate(0,408)"><path d="M0 0l3-4.5v-2h20.5v11h-20.5z"/><text class="o" x="4" y="2.7">RFSH</text></g>
<g transform="translate(0,420.7)"><path d="M0 0l3-4.5h11.5v9h-11.5z"/><text x="4" y="2.7">A8</text></g>
<g transform="translate(0,433.4)"><path d="M0 0l3-4.5h16v9h-16z"/><text x="4" y="2.7">A10</text></g>
<g transform="translate(0,446.1)"><path d="M0 0l3-4.5h25v9h-25z"/><text x="4" y="2.7">RESET</text></g>
</g>
<text class="s" x="466" y="93">J5</text>
<text class="s" x="465.5" y="463">#2</text>
</g>

<g transform="translate(445.4,0)">
<rect class="bx" x="465" y="96.4" width="26.3" height="356.2"/>
<rect x="445.5" y="102.3" width="19.5" height="345" fill="url(#pp)"/>
<rect x="491.3" y="102.3" width="18.7" height="345" fill="url(#pp)"/>
<rect x="465" y="101.9" width="7.4" height="346" fill="url(#ps)"/>
<rect x="484" y="101.9" width="7.3" height="346" fill="url(#ps)"/>
<path class="nc" d="M442.5 150.6l6 6m0-6l-6 6M507 150.6l6 6m0-6l-6 6"/>
<g class="pn">
<text x="456" y="101.4">2</text><text x="456" y="114.1">4</text><text x="456" y="126.8">6</text><text x="456" y="139.6">8</text><text x="456" y="152.3">10</text><text x="456" y="165">12</text><text x="456" y="177.7">14</text><text x="456" y="190.4">16</text><text x="456" y="203.2">18</text><text x="456" y="215.9">20</text><text x="456" y="228.6">22</text><text x="456" y="241.3">24</text><text x="456" y="254">26</text><text x="456" y="266.8">28</text><text x="456" y="279.5">30</text><text x="456" y="292.2">32</text><text x="456" y="304.9">34</text><text x="456" y="317.6">36</text><text x="456" y="330.4">38</text><text x="456" y="343.1">40</text><text x="456" y="355.8">42</text><text x="456" y="368.5">44</text><text x="456" y="381.2">46</text><text x="456" y="394">48</text><text x="456" y="406.7">50</text><text x="456" y="419.4">52</text><text x="456" y="432.1">54</text><text x="456" y="444.8">56</text>
<text x="500.3" y="101.4">1</text><text x="500.3" y="114.1">3</text><text x="500.3" y="126.8">5</text><text x="500.3" y="139.6">7</text><text x="500.3" y="152.3">9</text><text x="500.3" y="165">11</text><text x="500.3" y="177.7">13</text><text x="500.3" y="190.4">15</text><text x="500.3" y="203.2">17</text><text x="500.3" y="215.9">19</text><text x="500.3" y="228.6">21</text><text x="500.3" y="241.3">23</text><text x="500.3" y="254">25</text><text x="500.3" y="266.8">27</text><text x="500.3" y="279.5">29</text><text x="500.3" y="292.2">31</text><text x="500.3" y="304.9">33</text><text x="500.3" y="317.6">35</text><text x="500.3" y="330.4">37</text><text x="500.3" y="343.1">39</text><text x="500.3" y="355.8">41</text><text x="500.3" y="368.5">43</text><text x="500.3" y="381.2">45</text><text x="500.3" y="394">47</text><text x="500.3" y="406.7">49</text><text x="500.3" y="419.4">51</text><text x="500.3" y="432.1">53</text><text x="500.3" y="444.8">55</text>
</g>
<g class="lab L" transform="translate(445.5,0)">
<g transform="translate(0,102.7)"><path d="M0 0l-3-4.5h-16v9h16z"/><text x="-4" y="2.7">A14</text></g>
<g transform="translate(0,115.4)"><path d="M0 0l-3-4.5h-16v9h16z"/><text x="-4" y="2.7">A12</text></g>
<g transform="translate(0,140.9)"><path d="M0 0l-3-4.5h-16v9h16z"/><text x="-4" y="2.7">+9V</text></g>
<g transform="translate(0,191.7)"><path d="M0 0l-3-4.5v-2h-16v11h16z"/><text class="o" x="-4" y="2.7">CLK</text></g>
<g transform="translate(0,204.5)"><path d="M0 0l-3-4.5h-11.5v9h11.5z"/><text x="-4" y="2.7">A0</text></g>
<g transform="translate(0,217.2)"><path d="M0 0l-3-4.5h-11.5v9h11.5z"/><text x="-4" y="2.7">A1</text></g>
<g transform="translate(0,229.9)"><path d="M0 0l-3-4.5h-11.5v9h11.5z"/><text x="-4" y="2.7">A2</text></g>
<g transform="translate(0,242.6)"><path d="M0 0l-3-4.5h-11.5v9h11.5z"/><text x="-4" y="2.7">A3</text></g>
<g transform="translate(0,255.3)"><path d="M0 0l-3-4.5v-2h-34v11h34z"/><text class="o" x="-4" y="2.7">IOREQGE</text></g>
<g transform="translate(0,280.8)"><path d="M0 0l-3-4.5v-2h-34v11h34z"/><text class="o" x="-4" y="2.7">OE_ROM2</text></g>
<g transform="translate(0,293.5)"><path d="M0 0l-3-4.5v-2h-7v11h7z"/><text class="o" x="-4" y="2.7">Y</text></g>
<g transform="translate(0,306.2)"><path d="M0 0l-3-4.5h-7v9h7z"/><text x="-4" y="2.7">V</text></g>
<g transform="translate(0,318.9)"><path d="M0 0l-3-4.5h-7v9h7z"/><text x="-4" y="2.7">U</text></g>
<g transform="translate(0,331.7)"><path d="M0 0l-3-4.5v-2h-25v11h25z"/><text class="o" x="-4" y="2.7">BUSRQ</text></g>
<g transform="translate(0,344.4)"><path d="M0 0l-3-4.5v-2h-25v11h25z"/><text class="o" x="-4" y="2.7">RESET</text></g>
<g transform="translate(0,357.1)"><path d="M0 0l-3-4.5h-11.5v9h11.5z"/><text x="-4" y="2.7">A7</text></g>
<g transform="translate(0,369.8)"><path d="M0 0l-3-4.5h-11.5v9h11.5z"/><text x="-4" y="2.7">A6</text></g>
<g transform="translate(0,382.5)"><path d="M0 0l-3-4.5h-11.5v9h11.5z"/><text x="-4" y="2.7">A5</text></g>
<g transform="translate(0,395.3)"><path d="M0 0l-3-4.5h-11.5v9h11.5z"/><text x="-4" y="2.7">A4</text></g>
<g transform="translate(0,408)"><path d="M0 0l-3-4.5v-2h-25v11h25z"/><text class="o" x="-4" y="2.7">ROMCS</text></g>
<g transform="translate(0,420.7)"><path d="M0 0l-3-4.5v-2h-29.5v11h29.5z"/><text class="o" x="-4" y="2.7">BUSACK</text></g>
<g transform="translate(0,433.4)"><path d="M0 0l-3-4.5h-11.5v9h11.5z"/><text x="-4" y="2.7">A9</text></g>
<g transform="translate(0,446.1)"><path d="M0 0l-3-4.5h-16v9h16z"/><text x="-4" y="2.7">A11</text></g>
</g>
<g class="lab" transform="translate(510,0)">
<g transform="translate(0,102.7)"><path d="M0 0l3-4.5h16v9h-16z"/><text x="4" y="2.7">A15</text></g>
<g transform="translate(0,115.4)"><path d="M0 0l3-4.5h16v9h-16z"/><text x="4" y="2.7">A13</text></g>
<g transform="translate(0,128.1)"><path d="M0 0l3-4.5h11.5v9h-11.5z"/><text x="4" y="2.7">D7</text></g>
<g transform="translate(0,140.9)"><path d="M0 0l3-4.5v-2h34v11h-34z"/><text class="o" x="4" y="2.7">OE_ROM1</text></g>
<g transform="translate(0,166.3)"><path d="M0 0l3-4.5h11.5v9h-11.5z"/><text x="4" y="2.7">D0</text></g>
<g transform="translate(0,179)"><path d="M0 0l3-4.5h11.5v9h-11.5z"/><text x="4" y="2.7">D1</text></g>
<g transform="translate(0,191.7)"><path d="M0 0l3-4.5h11.5v9h-11.5z"/><text x="4" y="2.7">D2</text></g>
<g transform="translate(0,204.5)"><path d="M0 0l3-4.5h11.5v9h-11.5z"/><text x="4" y="2.7">D6</text></g>
<g transform="translate(0,217.2)"><path d="M0 0l3-4.5h11.5v9h-11.5z"/><text x="4" y="2.7">D5</text></g>
<g transform="translate(0,229.9)"><path d="M0 0l3-4.5h11.5v9h-11.5z"/><text x="4" y="2.7">D3</text></g>
<g transform="translate(0,242.6)"><path d="M0 0l3-4.5h11.5v9h-11.5z"/><text x="4" y="2.7">D4</text></g>
<g transform="translate(0,255.3)"><path d="M0 0l3-4.5v-2h16v11h-16z"/><text class="o" x="4" y="2.7">INT</text></g>
<g transform="translate(0,268.1)"><path d="M0 0l3-4.5v-2h16v11h-16z"/><text class="o" x="4" y="2.7">NMI</text></g>
<g transform="translate(0,280.8)"><path d="M0 0l3-4.5v-2h20.5v11h-20.5z"/><text class="o" x="4" y="2.7">HALT</text></g>
<g transform="translate(0,293.5)"><path d="M0 0l3-4.5v-2h20.5v11h-20.5z"/><text class="o" x="4" y="2.7">MREQ</text></g>
<g transform="translate(0,306.2)"><path d="M0 0l3-4.5v-2h20.5v11h-20.5z"/><text class="o" x="4" y="2.7">IORQ</text></g>
<g transform="translate(0,318.9)"><path d="M0 0l3-4.5v-2h11.5v11h-11.5z"/><text class="o" x="4" y="2.7">RD</text></g>
<g transform="translate(0,331.7)"><path d="M0 0l3-4.5v-2h11.5v11h-11.5z"/><text class="o" x="4" y="2.7">WR</text></g>
<g transform="translate(0,344.4)"><path d="M0 0l3-4.5h16v9h-16z"/><text x="4" y="2.7">-5V</text></g>
<g transform="translate(0,357.1)"><path d="M0 0l3-4.5v-2h20.5v11h-20.5z"/><text class="o" x="4" y="2.7">WAIT</text></g>
<g transform="translate(0,369.8)"><path d="M0 0l3-4.5h20.5v9h-20.5z"/><text x="4" y="2.7">+12V</text></g>
<g transform="translate(0,382.5)"><path d="M0 0l3-4.5h25v9h-25z"/><text x="4" y="2.7">12VAC</text></g>
<g transform="translate(0,395.3)"><path d="M0 0l3-4.5v-2h11.5v11h-11.5z"/><text class="o" x="4" y="2.7">M1</text></g>
<g transform="translate(0,408)"><path d="M0 0l3-4.5v-2h20.5v11h-20.5z"/><text class="o" x="4" y="2.7">RFSH</text></g>
<g transform="translate(0,420.7)"><path d="M0 0l3-4.5h11.5v9h-11.5z"/><text x="4" y="2.7">A8</text></g>
<g transform="translate(0,433.4)"><path d="M0 0l3-4.5h16v9h-16z"/><text x="4" y="2.7">A10</text></g>
<g transform="translate(0,446.1)"><path d="M0 0l3-4.5h25v9h-25z"/><text x="4" y="2.7">RESET</text></g>
</g>
<text class="s" x="466" y="93">J4</text>
<text class="s" x="465.5" y="463">#3</text>
</g>

<g transform="translate(668.1,0)">
<rect class="bx" x="465" y="96.4" width="26.3" height="356.2"/>
<rect x="445.5" y="102.3" width="19.5" height="345" fill="url(#pp)"/>
<rect x="491.3" y="102.3" width="18.7" height="345" fill="url(#pp)"/>
<rect x="465" y="101.9" width="7.4" height="346" fill="url(#ps)"/>
<rect x="484" y="101.9" width="7.3" height="346" fill="url(#ps)"/>
<path class="nc" d="M442.5 150.6l6 6m0-6l-6 6M507 150.6l6 6m0-6l-6 6"/>
<g class="pn">
<text x="456" y="101.4">2</text><text x="456" y="114.1">4</text><text x="456" y="126.8">6</text><text x="456" y="139.6">8</text><text x="456" y="152.3">10</text><text x="456" y="165">12</text><text x="456" y="177.7">14</text><text x="456" y="190.4">16</text><text x="456" y="203.2">18</text><text x="456" y="215.9">20</text><text x="456" y="228.6">22</text><text x="456" y="241.3">24</text><text x="456" y="254">26</text><text x="456" y="266.8">28</text><text x="456" y="279.5">30</text><text x="456" y="292.2">32</text><text x="456" y="304.9">34</text><text x="456" y="317.6">36</text><text x="456" y="330.4">38</text><text x="456" y="343.1">40</text><text x="456" y="355.8">42</text><text x="456" y="368.5">44</text><text x="456" y="381.2">46</text><text x="456" y="394">48</text><text x="456" y="406.7">50</text><text x="456" y="419.4">52</text><text x="456" y="432.1">54</text><text x="456" y="444.8">56</text>
<text x="500.3" y="101.4">1</text><text x="500.3" y="114.1">3</text><text x="500.3" y="126.8">5</text><text x="500.3" y="139.6">7</text><text x="500.3" y="152.3">9</text><text x="500.3" y="165">11</text><text x="500.3" y="177.7">13</text><text x="500.3" y="190.4">15</text><text x="500.3" y="203.2">17</text><text x="500.3" y="215.9">19</text><text x="500.3" y="228.6">21</text><text x="500.3" y="241.3">23</text><text x="500.3" y="254">25</text><text x="500.3" y="266.8">27</text><text x="500.3" y="279.5">29</text><text x="500.3" y="292.2">31</text><text x="500.3" y="304.9">33</text><text x="500.3" y="317.6">35</text><text x="500.3" y="330.4">37</text><text x="500.3" y="343.1">39</text><text x="500.3" y="355.8">41</text><text x="500.3" y="368.5">43</text><text x="500.3" y="381.2">45</text><text x="500.3" y="394">47</text><text x="500.3" y="406.7">49</text><text x="500.3" y="419.4">51</text><text x="500.3" y="432.1">53</text><text x="500.3" y="444.8">55</text>
</g>
<g class="lab L" transform="translate(445.5,0)">
<g transform="translate(0,102.7)"><path d="M0 0l-3-4.5h-16v9h16z"/><text x="-4" y="2.7">A14</text></g>
<g transform="translate(0,115.4)"><path d="M0 0l-3-4.5h-16v9h16z"/><text x="-4" y="2.7">A12</text></g>
<g transform="translate(0,140.9)"><path d="M0 0l-3-4.5h-16v9h16z"/><text x="-4" y="2.7">+9V</text></g>
<g transform="translate(0,191.7)"><path d="M0 0l-3-4.5v-2h-16v11h16z"/><text class="o" x="-4" y="2.7">CLK</text></g>
<g transform="translate(0,204.5)"><path d="M0 0l-3-4.5h-11.5v9h11.5z"/><text x="-4" y="2.7">A0</text></g>
<g transform="translate(0,217.2)"><path d="M0 0l-3-4.5h-11.5v9h11.5z"/><text x="-4" y="2.7">A1</text></g>
<g transform="translate(0,229.9)"><path d="M0 0l-3-4.5h-11.5v9h11.5z"/><text x="-4" y="2.7">A2</text></g>
<g transform="translate(0,242.6)"><path d="M0 0l-3-4.5h-11.5v9h11.5z"/><text x="-4" y="2.7">A3</text></g>
<g transform="translate(0,255.3)"><path d="M0 0l-3-4.5v-2h-34v11h34z"/><text class="o" x="-4" y="2.7">IOREQGE</text></g>
<g transform="translate(0,280.8)"><path d="M0 0l-3-4.5v-2h-34v11h34z"/><text class="o" x="-4" y="2.7">OE_ROM2</text></g>
<g transform="translate(0,293.5)"><path d="M0 0l-3-4.5v-2h-7v11h7z"/><text class="o" x="-4" y="2.7">Y</text></g>
<g transform="translate(0,306.2)"><path d="M0 0l-3-4.5h-7v9h7z"/><text x="-4" y="2.7">V</text></g>
<g transform="translate(0,318.9)"><path d="M0 0l-3-4.5h-7v9h7z"/><text x="-4" y="2.7">U</text></g>
<g transform="translate(0,331.7)"><path d="M0 0l-3-4.5v-2h-25v11h25z"/><text class="o" x="-4" y="2.7">BUSRQ</text></g>
<g transform="translate(0,344.4)"><path d="M0 0l-3-4.5v-2h-25v11h25z"/><text class="o" x="-4" y="2.7">RESET</text></g>
<g transform="translate(0,357.1)"><path d="M0 0l-3-4.5h-11.5v9h11.5z"/><text x="-4" y="2.7">A7</text></g>
<g transform="translate(0,369.8)"><path d="M0 0l-3-4.5h-11.5v9h11.5z"/><text x="-4" y="2.7">A6</text></g>
<g transform="translate(0,382.5)"><path d="M0 0l-3-4.5h-11.5v9h11.5z"/><text x="-4" y="2.7">A5</text></g>
<g transform="translate(0,395.3)"><path d="M0 0l-3-4.5h-11.5v9h11.5z"/><text x="-4" y="2.7">A4</text></g>
<g transform="translate(0,408)"><path d="M0 0l-3-4.5v-2h-25v11h25z"/><text class="o" x="-4" y="2.7">ROMCS</text></g>
<g transform="translate(0,420.7)"><path d="M0 0l-3-4.5v-2h-29.5v11h29.5z"/><text class="o" x="-4" y="2.7">BUSACK</text></g>
<g transform="translate(0,433.4)"><path d="M0 0l-3-4.5h-11.5v9h11.5z"/><text x="-4" y="2.7">A9</text></g>
<g transform="translate(0,446.1)"><path d="M0 0l-3-4.5h-16v9h16z"/><text x="-4" y="2.7">A11</text></g>
</g>
<g class="lab" transform="translate(510,0)">
<g transform="translate(0,102.7)"><path d="M0 0l3-4.5h16v9h-16z"/><text x="4" y="2.7">A15</text></g>
<g transform="translate(0,115.4)"><path d="M0 0l3-4.5h16v9h-16z"/><text x="4" y="2.7">A13</text></g>
<g transform="translate(0,128.1)"><path d="M0 0l3-4.5h11.5v9h-11.5z"/><text x="4" y="2.7">D7</text></g>
<g transform="translate(0,140.9)"><path d="M0 0l3-4.5v-2h34v11h-34z"/><text class="o" x="4" y="2.7">OE_ROM1</text></g>
<g transform="translate(0,166.3)"><path d="M0 0l3-4.5h11.5v9h-11.5z"/><text x="4" y="2.7">D0</text></g>
<g transform="translate(0,179)"><path d="M0 0l3-4.5h11.5v9h-11.5z"/><text x="4" y="2.7">D1</text></g>
<g transform="translate(0,191.7)"><path d="M0 0l3-4.5h11.5v9h-11.5z"/><text x="4" y="2.7">D2</text></g>
<g transform="translate(0,204.5)"><path d="M0 0l3-4.5h11.5v9h-11.5z"/><text x="4" y="2.7">D6</text></g>
<g transform="translate(0,217.2)"><path d="M0 0l3-4.5h11.5v9h-11.5z"/><text x="4" y="2.7">D5</text></g>
<g transform="translate(0,229.9)"><path d="M0 0l3-4.5h11.5v9h-11.5z"/><text x="4" y="2.7">D3</text></g>
<g transform="translate(0,242.6)"><path d="M0 0l3-4.5h11.5v9h-11.5z"/><text x="4" y="2.7">D4</text></g>
<g transform="translate(0,255.3)"><path d="M0 0l3-4.5v-2h16v11h-16z"/><text class="o" x="4" y="2.7">INT</text></g>
<g transform="translate(0,268.1)"><path d="M0 0l3-4.5v-2h16v11h-16z"/><text class="o" x="4" y="2.7">NMI</text></g>
<g transform="translate(0,280.8)"><path d="M0 0l3-4.5v-2h20.5v11h-20.5z"/><text class="o" x="4" y="2.7">HALT</text></g>
<g transform="translate(0,293.5)"><path d="M0 0l3-4.5v-2h20.5v11h-20.5z"/><text class="o" x="4" y="2.7">MREQ</text></g>
<g transform="translate(0,306.2)"><path d="M0 0l3-4.5v-2h20.5v11h-20.5z"/><text class="o" x="4" y="2.7">IORQ</text></g>
<g transform="translate(0,318.9)"><path d="M0 0l3-4.5v-2h11.5v11h-11.5z"/><text class="o" x="4" y="2.7">RD</text></g>
<g transform="translate(0,331.7)"><path d="M0 0l3-4.5v-2h11.5v11h-11.5z"/><text class="o" x="4" y="2.7">WR</text></g>
<g transform="translate(0,344.4)"><path d="M0 0l3-4.5h16v9h-16z"/><text x="4" y="2.7">-5V</text></g>
<g transform="translate(0,357.1)"><path d="M0 0l3-4.5v-2h20.5v11h-20.5z"/><text class="o" x="4" y="2.7">WAIT</text></g>
<g transform="translate(0,369.8)"><path d="M0 0l3-4.5h20.5v9h-20.5z"/><text x="4" y="2.7">+12V</text></g>
<g transform="translate(0,382.5)"><path d="M0 0l3-4.5h25v9h-25z"/><text x="4" y="2.7">12VAC</text></g>
<g transform="translate(0,395.3)"><path d="M0 0l3-4.5v-2h11.5v11h-11.5z"/><text class="o" x="4" y="2.7">M1</text></g>
<g transform="translate(0,408)"><path d="M0 0l3-4.5v-2h20.5v11h-20.5z"/><text class="o" x="4" y="2.7">RFSH</text></g>
<g transform="translate(0,420.7)"><path d="M0 0l3-4.5h11.5v9h-11.5z"/><text x="4" y="2.7">A8</text></g>
<g transform="translate(0,433.4)"><path d="M0 0l3-4.5h16v9h-16z"/><text x="4" y="2.7">A10</text></g>
<g transform="translate(0,446.1)"><path d="M0 0l3-4.5h25v9h-25z"/><text x="4" y="2.7">RESET</text></g>
</g>
<text class="s" x="466" y="93">J3</text>
<text class="s" x="465.5" y="463">#4</text>
</g>

<!-- ===== Power section ===== -->
<!-- arrows -->
<path class="c" d="M351 557V548.2M346.7 554.6L351 548.2L355.3 554.6M796.4 557V548.2M792.1 554.6L796.4 548.2L800.7 554.6M1019.1 557V548.2M1014.8 554.6L1019.1 548.2L1023.4 554.6"/>
<text class="s" x="344" y="541" style="font-size:8.5px">VIN</text>
<text class="s" x="786" y="541" style="font-size:8.5px">+5V</text>

<!-- wires -->
<path class="w" d="M170 627.3H201.7V601.8H249.1V610M170 652.7H201.7V678H249.1V669.5
M217 640.2H211.5V815M287 640.2H441M515 640.2H898.3
M351 557V748.2M351 786V815M573.7 640.2V748.2M573.7 786V815
M478 677V815M796.4 557V614.4H898.3M923.3 658.6V815
M948.2 627.3H1019.1M1019.1 557V700M1019.1 733.6V748M1019.1 785.8V815"/>
<g class="j"><circle cx="351" cy="640.2" r="2.3"/><circle cx="573.7" cy="640.2" r="2.3"/><circle cx="1019.1" cy="627.3" r="2.3"/></g>

<!-- grounds -->
<path class="c" d="M211.5 815V821.7M204.8 821.7H218.2M207.8 824.6H215.2M210.7 827.6H212.3
M351 815V821.7M344.3 821.7H357.7M347.3 824.6H354.7M350.2 827.6H351.8
M478 815V821.7M471.3 821.7H484.7M474.3 824.6H481.7M477.2 827.6H478.8
M573.7 815V821.7M567 821.7H580.4M570 824.6H577.4M572.9 827.6H574.5
M923.3 815V821.7M916.6 821.7H930M919.6 824.6H927M922.5 827.6H924.1
M1019.1 815V821.7M1012.4 821.7H1025.8M1015.4 824.6H1022.8M1018.3 827.6H1019.9"/>

<!-- J1 -->
<rect class="bx" x="105.3" y="620.7" width="52" height="38.9"/>
<rect x="111.3" y="624.2" width="39.4" height="6.5" rx="3" fill="#72e6e6"/>
<path class="c" d="M150.7 627.3H170M112 652.7H121L125.8 645L131 652.7H170"/>
<text class="cy" x="160.5" y="625.5">1</text><text class="cy" x="160.5" y="651">2</text>
<text class="s" x="104.5" y="617.5">J1</text>
<text class="s" x="106.5" y="669.5">DC POWER</text>

<!-- D2 bridge -->
<path class="c" d="M249.1 610V614.4L274.3 640.2L249.1 664.6L223.3 640.2L249.1 614.4M249.1 664.6V669.5M223.3 640.2H217M274.3 640.2H287"/>
<g class="c">
<g transform="translate(236.2,627.3) rotate(-45)"><path d="M-3.5-3.8L3.5 0L-3.5 3.8ZM3.5-3.8V3.8"/></g>
<g transform="translate(236.2,652.4) rotate(45)"><path d="M-3.5-3.8L3.5 0L-3.5 3.8ZM3.5-3.8V3.8"/></g>
<g transform="translate(261.7,627.3) rotate(45)"><path d="M-3.5-3.8L3.5 0L-3.5 3.8ZM3.5-3.8V3.8"/></g>
<g transform="translate(261.7,652.4) rotate(-45)"><path d="M-3.5-3.8L3.5 0L-3.5 3.8ZM3.5-3.8V3.8"/></g>
</g>
<g fill="#72e6e6"><circle cx="249.1" cy="614.4" r="1"/><circle cx="249.1" cy="664.6" r="1"/><circle cx="223.3" cy="640.2" r="1"/><circle cx="274.3" cy="640.2" r="1"/></g>
<text class="s" x="214" y="637" style="font-size:8px">−</text>
<text class="cy" x="213.5" y="648.5">2</text>
<text class="s" x="277" y="637" style="font-size:8px">+</text>
<text class="cy" x="278" y="648.5">1</text>
<text class="cy" x="246" y="612" style="font-size:6px">~</text><text class="cy" x="251" y="612" style="font-size:7px">4</text>
<text class="cy" x="246" y="673" style="font-size:6px">~</text><text class="cy" x="251" y="674" style="font-size:7px">3</text>
<text class="s" x="272" y="623">D2</text>
<text class="s" x="272" y="664.5">DF210−G</text>

<!-- VR1 -->
<rect class="bx" x="453" y="630.2" width="50.4" height="35.8"/>
<path class="c" d="M441 640.2H453M503.4 640.2H515M478 666V677"/>
<text class="s" x="456" y="643.5" style="font-size:8.5px">IN</text>
<text class="s" x="500" y="643.5" style="font-size:8.5px;text-anchor:end">OUT</text>
<text class="s" transform="translate(481,662) rotate(-90)" style="font-size:8.5px">GND</text>
<text class="cy" x="443" y="637">1</text><text class="cy" x="506.5" y="637">3</text>
<text class="cy" transform="translate(474,674) rotate(-90)" style="font-size:7px">2</text>
<text class="s" x="453" y="627">VR1</text>
<text class="s" x="469" y="675" style="font-size:8.6px;text-anchor:end">mEZD72402A−G</text>

<!-- C1 / C2 -->
<path class="c" d="M351 748.2V762M351 772.7V786M573.7 748.2V762M573.7 772.7V786"/>
<rect x="339.1" y="762" width="23.8" height="3" fill="none" stroke="#72e6e6" stroke-width=".7"/>
<rect x="339.1" y="769.7" width="23.8" height="3" fill="#72e6e6"/>
<rect x="561.8" y="762" width="23.8" height="3" fill="none" stroke="#72e6e6" stroke-width=".7"/>
<rect x="561.8" y="769.7" width="23.8" height="3" fill="#72e6e6"/>
<text class="cy" x="341.5" y="758.5">+</text><text class="cy" x="564.2" y="758.5">+</text>
<text class="s" x="366.6" y="765.5">C1</text><text class="s" x="366.6" y="776.5">2.2μF 16V</text>
<text class="s" x="588.8" y="765.5">C2</text><text class="s" x="588.8" y="776.5">10μF 16V</text>

<!-- SW1 -->
<rect class="bx" x="907.4" y="609.2" width="31.7" height="36"/>
<path class="c" d="M898.3 614.4H910.2M898.3 640.2H910.2M935.3 627.3H948.2M923.3 645.2V658.6M914.6 615.6L930.8 626"/>
<g fill="none" stroke="#72e6e6" stroke-width=".75"><circle cx="912.6" cy="614.4" r="2.4"/><circle cx="912.6" cy="639.7" r="2.4"/><circle cx="932.9" cy="627.3" r="2.4"/></g>
<text class="cy" x="901.5" y="622.5">1</text><text class="cy" x="901.5" y="647">3</text><text class="cy" x="941" y="633">2</text>
<text class="cy" transform="translate(926,649) rotate(-90)" style="font-size:7px">5</text>
<text class="s" x="907" y="605">SW1</text>
<text class="g" x="879" y="610.7">INT</text>
<text class="g" x="879" y="636.5">EXT</text>
<text class="s" x="887.5" y="655.8">POWER</text>

<!-- R1 -->
<path class="c" d="M1019.1 700V704L1024.4 706.3L1013.8 710.6L1024.4 714.9L1013.8 719.2L1024.4 723.5L1013.8 727.8L1019.1 729.5V733.6"/>
<text class="s" x="1028.3" y="716.6">R1</text>
<text class="s" x="1028.3" y="728.6">330Ω</text>

<!-- D1 LED -->
<path class="c" d="M1019.1 748V761M1012.2 761H1026L1019.1 773.4ZM1012.2 773.4H1026M1019.1 773.4V785.8M1022.8 776.5L1029.5 783M1026.5 782.8L1029.5 783L1029.3 780M1022.8 782.5L1029.5 789M1026.5 788.8L1029.5 789L1029.3 786"/>
<text class="s" x="1033" y="763.6">D1</text>
<text class="s" x="1033" y="774.8">PWR</text>
<text class="g" x="1033" y="784.5">Red</text>
</svg>
</body></html>
